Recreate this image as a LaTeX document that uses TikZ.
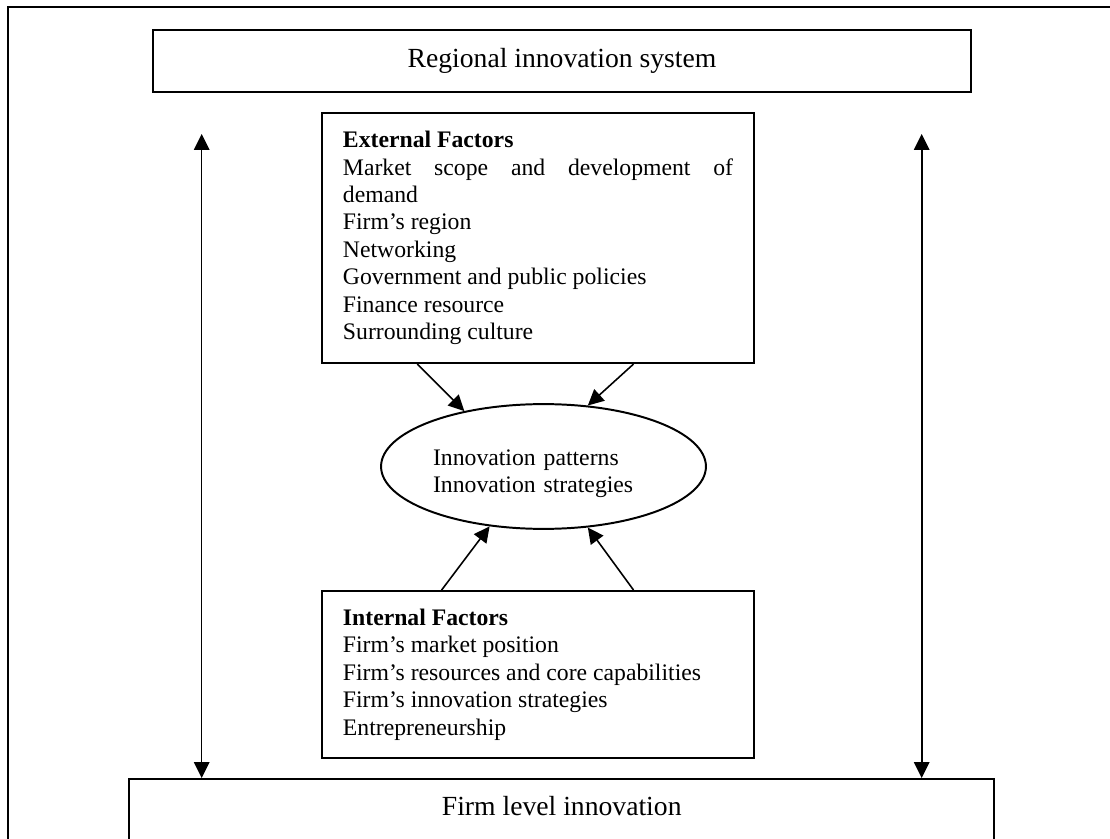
\documentclass[tikz,border=0pt]{standalone}
\usepackage{fontspec}
\setmainfont{Liberation Serif}
\usetikzlibrary{arrows.meta,shapes.geometric,calc}

\begin{document}
\begin{tikzpicture}[x=0.01779cm, y=-0.01779cm,
        >={Triangle[length=8pt,width=7.8pt]},
        every node/.style={font=\fontsize{12}{13.9}\selectfont},
        level/.style={draw, line width=1pt, font=\fontsize{14}{16}\selectfont},
        factors/.style={draw, line width=1pt, text width=6.94cm, inner xsep=0.375cm,
            minimum width=7.69cm, align=justify},
        link/.style={->, line width=0.8pt}]
        \path[use as bounding box, clip] (0,0) rectangle (1110,839);
        \draw[line width=1pt] (8,7) rectangle (1130,860);

        \node[level, minimum width=14.54cm, minimum height=1.10cm] (region) at (562,61) {Regional innovation system};
        \node[factors, minimum height=4.45cm] (ext) at (538,238)
            {\textbf{External Factors}\\
             Market scope and development of\linebreak demand\\
             Firm's region\\
             Networking\\
             Government and public policies\\
             Finance resource\\
             Surrounding culture};
        \node[draw, ellipse, line width=1pt, minimum width=5.78cm, minimum height=2.22cm, inner sep=0pt,
            text width=3.93cm, align=left, text depth=0.32cm] (core) at (543.5,466.5)
            {Innovation patterns\\Innovation strategies};
        \node[factors, minimum height=2.97cm] (int) at (538,674.5)
            {\textbf{Internal Factors}\\
             Firm's market position\\
             Firm's resources and core capabilities\\
             Firm's innovation strategies\\
             Entrepreneurship};
        \node[level, minimum width=15.38cm, minimum height=1.3cm, text height=3mm, text depth=3mm] (firm) at (561.7,815.5) {Firm level innovation};

        \coordinate (upL) at (201.7,134);
        \coordinate (upR) at (921.7,134);
        \draw[link, <->] (upL) -- (upL |- firm.north);
        \draw[link, <->] (upR) -- (upR |- firm.north);

        \draw[link] ($(ext.south west)!0.222!(ext.south east)$) -- (core.145);
        \draw[link] ($(ext.south west)!0.72!(ext.south east)$) -- (core.54);
        \draw[link] ($(int.north west)!0.278!(int.north east)$) -- (core.228);
        \draw[link] ($(int.north west)!0.72!(int.north east)$) -- (core.306);
    \end{tikzpicture}
\end{document}
